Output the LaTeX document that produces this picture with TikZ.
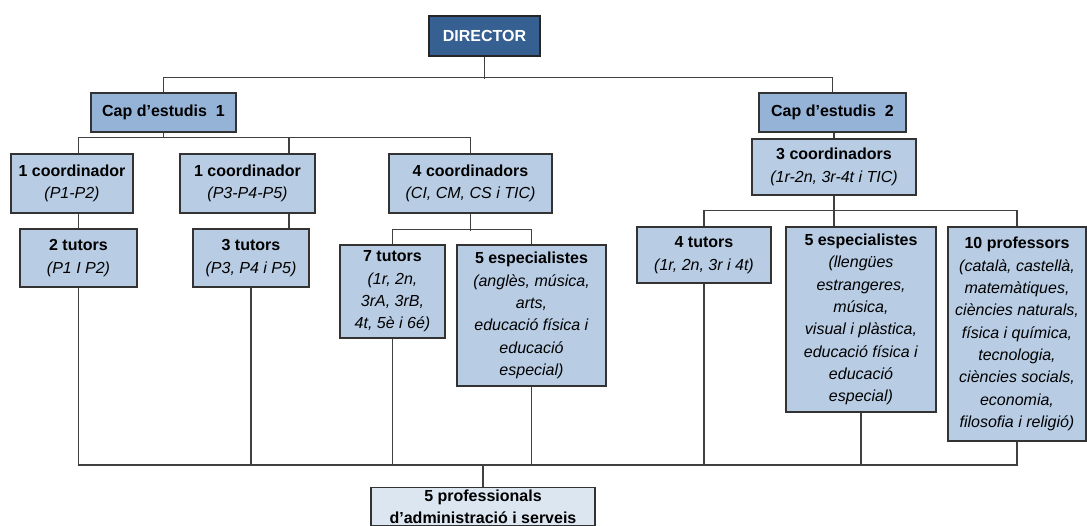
\documentclass[tikz,border=0pt]{standalone}
\usepackage{fontspec}
\setmainfont{Liberation Sans}

\definecolor{dirblue}{HTML}{376092}
\definecolor{capblue}{HTML}{95B3D7}
\definecolor{boxblue}{HTML}{B8CCE4}
\definecolor{admblue}{HTML}{DCE6F1}
\definecolor{linegray}{HTML}{404040}

\tikzset{
  orgbox/.style={draw=black!80, line width=1.1pt, fill=boxblue, align=center, inner sep=2pt,
    font=\fontsize{16}{22.3}\selectfont},
  dirbox/.style={orgbox, fill=dirblue, draw=black!85, text=white},
  capbox/.style={orgbox, fill=capblue},
  admbox/.style={orgbox, fill=admblue},
  link/.style={draw=linegray, line width=1.2pt},
}

\begin{document}
\begin{tikzpicture}[x=1pt,y=-1pt]
\useasboundingbox (0,0) rectangle (1087,525);
\clip (0,0) rectangle (1087,525);

\node[dirbox, minimum width=111pt, minimum height=40pt] (dir) at (484.5,36) {\textbf{DIRECTOR}};
\node[capbox, minimum width=145pt, minimum height=39pt] (cap1) at (163.5,112.5) {\textbf{Cap d’estudis~~1}};
\node[capbox, minimum width=147pt, minimum height=39pt] (cap2) at (832.5,112.5) {\textbf{Cap d’estudis~~2}};

% cap d'estudis 1
\node[orgbox, minimum width=122pt, minimum height=59pt] (co1) at (72,183.5) {\textbf{1 coordinador}\\\textit{(P1-P2)}};
\node[orgbox, minimum width=135pt, minimum height=59pt] (co2) at (247.5,183.5) {\textbf{1 coordinador}\\\textit{(P3-P4-P5)}};
\node[orgbox, minimum width=163pt, minimum height=59pt] (co4) at (470.5,183.5) {\textbf{4 coordinadors}\\\textit{(CI, CM, CS i TIC)}};
\node[orgbox, minimum width=117pt, minimum height=58pt] (tu2) at (78.5,258) {\textbf{2 tutors}\\\textit{(P1 I P2)}};
\node[orgbox, minimum width=116pt, minimum height=58pt] (tu3) at (251,258) {\textbf{3 tutors}\\\textit{(P3, P4 i P5)}};
\node[orgbox, minimum width=105pt, minimum height=93pt] (tu7) at (392.5,291.5) {\textbf{7 tutors}\\\textit{(1r, 2n,}\\\textit{3rA, 3rB,}\\\textit{4t, 5è i 6é)}};
\node[orgbox, minimum width=149pt, minimum height=141pt] (es5a) at (531.5,315.5) {\textbf{5 especialistes}\\\textit{(anglès, música,}\\\textit{arts,}\\\textit{educació física i}\\\textit{educació}\\\textit{especial)}};

% cap d'estudis 2
\node[orgbox, minimum width=164pt, minimum height=56pt] (co3) at (834,167) {\textbf{3 coordinadors}\\\textit{(1r-2n, 3r-4t i TIC)}};
\node[orgbox, minimum width=134pt, minimum height=56pt] (tu4) at (704,255) {\textbf{4 tutors}\\\textit{(1r, 2n, 3r i 4t)}};
\node[orgbox, minimum width=150pt, minimum height=185pt] (es5b) at (861,319.5) {\textbf{5 especialistes}\\\textit{(llengües}\\\textit{estrangeres,}\\\textit{música,}\\\textit{visual i plàstica,}\\\textit{educació física i}\\\textit{educació}\\\textit{especial)}};
\node[orgbox, minimum width=138pt, minimum height=214pt] (pr10) at (1017,334) {\textbf{10 professors}\\\textit{(català, castellà,}\\\textit{matemàtiques,}\\\textit{ciències naturals,}\\\textit{física i química,}\\\textit{tecnologia,}\\\textit{ciències socials,}\\\textit{economia,}\\\textit{filosofia i religió)}};

\node[admbox, minimum width=224pt, inner ysep=2pt, anchor=north] (adm) at (483,487) {\textbf{5 professionals}\\\textbf{d’administració i serveis}};

% connectors
\draw[link] (dir.south) -- ++(0,22);
\draw[link] (cap1.north) -- ++(0,-15) -| (cap2.north);

\draw[link] (cap1.south) -- ++(0,5);
\draw[link] (tu2.north |- co1.north) -- ++(0,-16) -| (co4.north);
\draw[link] ([xshift=41.5pt]co2.north) -- ++(0,-16);
\draw[link] (tu2.north) -- (tu2.north |- co1.south);
\draw[link] ([xshift=41.5pt]co2.south) -- ([xshift=41.5pt]co2.south |- tu3.north);
\draw[link] (co4.south) -- ++(0,17);
\draw[link] (tu7.north) -- ++(0,-15) -| (es5a.north);

\draw[link] (co3.north |- cap2.south) -- (co3.north);
\draw[link] (co3.south) -- (co3.south |- es5b.north);
\draw[link] (tu4.north) -- ++(0,-16) -| (pr10.north);

\coordinate (bus) at (0,465);
\draw[link] (tu2.south) -- (tu2.south |- bus) -- (pr10.south |- bus) -- (pr10.south);
\foreach \n in {tu3,tu7,es5a,tu4,es5b}
  \draw[link] (\n.south) -- (\n.south |- bus);
\draw[link] (adm.north) -- (adm.north |- bus);

\end{tikzpicture}
\end{document}
